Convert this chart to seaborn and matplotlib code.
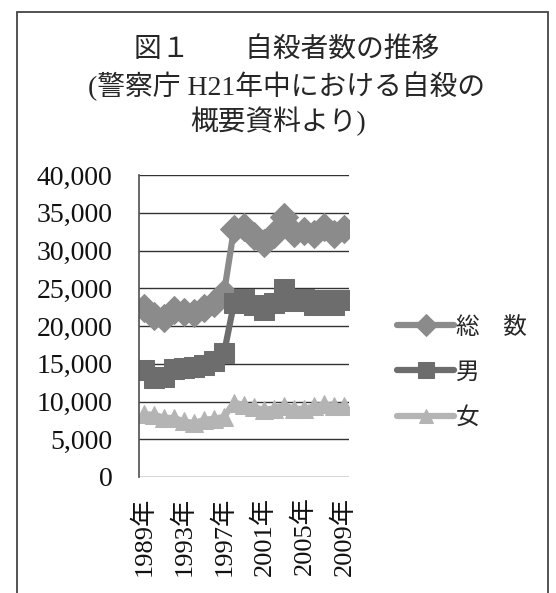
import matplotlib
matplotlib.use("Agg")
import matplotlib.pyplot as plt
import seaborn as sns
import pandas as pd
from matplotlib.patches import Rectangle

years = list(range(1989, 2010))
total = [22436, 21346, 21084, 22104, 21851, 21679, 22445, 23104, 24391, 32863,
         33048, 31957, 31042, 32143, 34427, 32325, 32552, 32155, 33093, 32249, 32845]
male = [14122, 13102, 13242, 14296, 14468, 14560, 14874, 15393, 16416, 23013,
        23512, 22727, 22144, 23080, 24963, 23272, 23540, 22813, 23478, 22831, 23472]
female = [8314, 8244, 7842, 7808, 7383, 7119, 7571, 7711, 7975, 9850,
          9536, 9230, 8898, 9063, 9464, 9053, 9012, 9342, 9615, 9418, 9373]
series_names = ["総　数", "男", "女"]
yticks = [0, 5000, 10000, 15000, 20000, 25000, 30000, 35000, 40000]
xtick_years = [1989, 1993, 1997, 2001, 2005, 2009]

sns.set_theme(style="white")
plt.rcParams['font.family'] = ['Liberation Serif', 'Noto Sans CJK JP', 'DejaVu Sans']

rows = []
for name, vals in zip(series_names, [total, male, female]):
    for i, (y, v) in enumerate(zip(years, vals)):
        rows.append({"idx": i, "year": y, "series": name, "value": v})
df = pd.DataFrame(rows)

W, H = 556, 593
fig = plt.figure(figsize=(W / 100, H / 100), dpi=100)
ax = fig.add_axes([139 / W, 1 - 477 / H, (349 - 139) / W, (477 - 175) / H])

palette = {"総　数": "#8b8b8b", "男": "#6d6d6d", "女": "#b4b4b4"}
markers = {"総　数": "D", "男": "s", "女": "^"}
sizes = {"総　数": 14.5, "男": 14.5, "女": 13}
for name in series_names:
    sub = df[df.series == name]
    sns.lineplot(data=sub, x="idx", y="value", ax=ax, color=palette[name],
                 marker=markers[name], markersize=sizes[name],
                 markeredgecolor=palette[name], linewidth=4.5, label=name,
                 legend=False)

ax.set_xlim(-0.5, len(years) - 0.5)
ax.set_ylim(0, 40000)
ax.set_yticks(yticks)
ax.set_yticklabels([f"{v:,}" for v in yticks], fontsize=20)
ax.set_xticks([years.index(y) for y in xtick_years])
ax.set_xticklabels([f"{y}年" for y in xtick_years], rotation=90, fontsize=19)
ax.tick_params(axis="y", length=0, pad=19, colors="#111111")
ax.tick_params(axis="x", length=0, pad=14, colors="#111111")
ax.set_xlabel("")
ax.set_ylabel("")
ax.grid(axis="y", color="#333333", linewidth=1.0)
ax.set_axisbelow(True)
for s in ["top", "right"]:
    ax.spines[s].set_visible(False)
ax.spines["left"].set_color("#555555")
ax.spines["bottom"].set_visible(False)

handles, labels = ax.get_legend_handles_labels()
fig.legend(handles, labels, loc="center left",
           bbox_to_anchor=(376 / W, 1 - 373 / H), frameon=False,
           fontsize=17, handlelength=2.4, labelspacing=1.0, handletextpad=0.1,
           markerscale=0.75)

fig.patches.append(Rectangle((17 / W, -0.05), (548 - 17) / W, 1.05 - 12 / H,
                             transform=fig.transFigure, fill=False,
                             edgecolor="#444444", linewidth=1.3))

fs = 20
cx = 287 / W
fig.text(cx, 1 - 50 / H, "図１　　自殺者数の推移", ha="center", va="center", fontsize=fs)
fig.text(cx, 1 - 86 / H, "(警察庁 H21年中における自殺の", ha="center", va="center", fontsize=fs)
fig.text(278 / W, 1 - 121 / H, "概要資料より)", ha="center", va="center", fontsize=fs)

fig.savefig("out.png", dpi=100)
